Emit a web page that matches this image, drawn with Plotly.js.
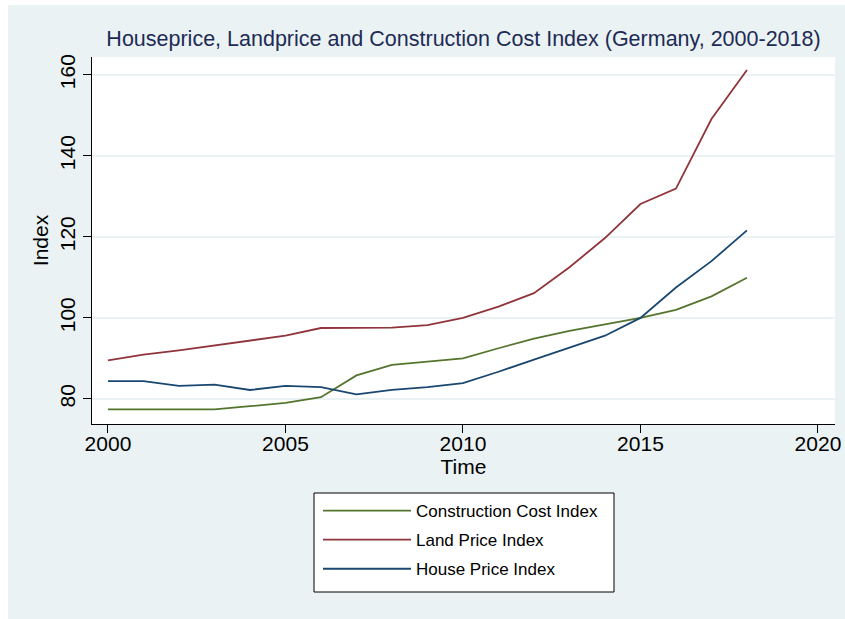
<!DOCTYPE html>
<html>
<head>
<meta charset="utf-8">
<script src="https://cdn.plot.ly/plotly-3.0.1.min.js"></script>
<style>html,body{margin:0;padding:0;background:#fff;}#chart{width:845px;height:619px;}</style>
</head>
<body>
<div id="chart"></div>
<script>
const years = [2000,2001,2002,2003,2004,2005,2006,2007,2008,2009,2010,2011,2012,2013,2014,2015,2016,2017,2018];
const constructionCost = [77.4,77.4,77.4,77.4,78.2,79.0,80.4,85.8,88.4,89.2,90.0,92.5,94.9,96.8,98.4,100.0,102.0,105.3,109.9];
const landPrice = [89.5,90.9,92.0,93.2,94.4,95.6,97.5,97.6,97.6,98.2,100.0,102.8,106.1,112.5,119.7,128.1,131.9,149.1,161.2];
const housePrice = [84.4,84.4,83.2,83.5,82.2,83.2,82.9,81.1,82.2,82.9,83.9,86.7,89.7,92.7,95.6,100.0,107.5,114.0,121.6];
const seriesNames = ["Construction Cost Index","Land Price Index","House Price Index"];
const xTicks = [2000,2005,2010,2015,2020];
const yTicks = [80,100,120,140,160];

const colors = ["#55752f","#90353b","#1a476f"];
const font = "Liberation Sans, Arial, Helvetica, sans-serif";
const series = [constructionCost, landPrice, housePrice];

const traces = series.map((vals, i) => ({
  x: years, y: vals, type: "scatter", mode: "lines",
  name: seriesNames[i], legendgroup: "g" + i,
  line: {color: colors[i], width: 1.8}
}));

const layout = {
  width: 845, height: 619,
  margin: {l: 92, r: 10, t: 57, b: 195},
  paper_bgcolor: "#eaf2f3",
  plot_bgcolor: "#ffffff",
  font: {family: font, color: "#000"},
  title: {text: "Houseprice, Landprice and Construction Cost Index (Germany, 2000-2018)",
          font: {family: font, size: 21.5, color: "#1e2b55"},
          x: 0.5, xref: "paper", y: 1 - 38/619, yref: "container", yanchor: "middle"},
  xaxis: {range: [1999.55, 2020.48], tickvals: xTicks, ticktext: xTicks.map(String),
          ticks: "outside", ticklen: 8, tickwidth: 1, tickcolor: "#000",
          showline: true, linecolor: "#000", linewidth: 1, showgrid: false, zeroline: false,
          ticklabelstandoff: -7,
          tickfont: {size: 21}, title: {text: "Time", font: {size: 21}, standoff: 0}},
  yaxis: {range: [73.8, 164.4], tickvals: yTicks, ticktext: yTicks.map(String), tickangle: -90,
          ticks: "outside", ticklen: 8, tickwidth: 1, tickcolor: "#000",
          showline: true, linecolor: "#000", linewidth: 1, showgrid: true, gridcolor: "#eaf2f3", gridwidth: 1.5,
          zeroline: false, tickfont: {size: 21}, title: {text: "Index", font: {size: 21}, standoff: 1}},
  showlegend: true,
  legend: {x: (318-92)/743, y: (424-493)/367, xanchor: "left", yanchor: "top",
           bgcolor: "rgba(0,0,0,0)", borderwidth: 0,
           font: {family: font, size: 17, color: "#000"},
           traceorder: "grouped", tracegroupgap: 4, itemwidth: 88},
  shapes: [
    {type: "rect", xref: "paper", yref: "paper", x0: -0.3, x1: (8-92)/743, y0: -0.6, y1: 1.3, fillcolor: "#fff", line: {width: 0}, layer: "below"},
    {type: "rect", xref: "paper", yref: "paper", x0: -0.3, x1: 1.2, y0: (424-5)/367, y1: 1.3, fillcolor: "#fff", line: {width: 0}, layer: "below"},
    {type: "rect", xref: "paper", yref: "paper", x0: (314-92)/743, x1: (614-92)/743, y0: (424-592)/367, y1: (424-493)/367,
     fillcolor: "#fff", line: {color: "#000", width: 1}, layer: "above"}
  ]
};

Plotly.newPlot("chart", traces, layout, {displayModeBar: false, staticPlot: true});
</script>
</body>
</html>
